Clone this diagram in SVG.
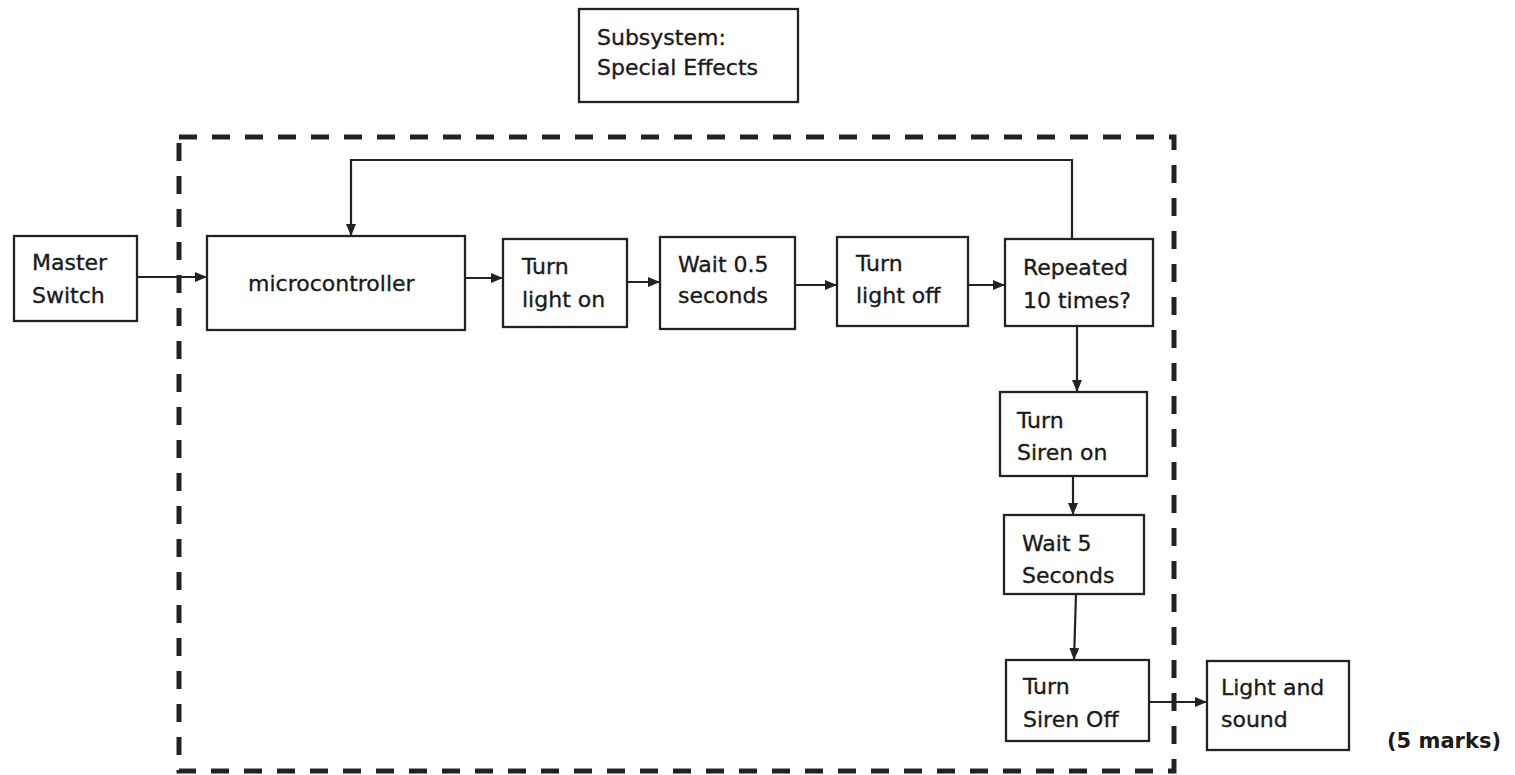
<svg xmlns="http://www.w3.org/2000/svg" width="1515" height="775" viewBox="0 0 1515 775">
<defs>
<style>
.box{fill:#ffffff;stroke:#222222;stroke-width:2.3}
.lbl{font-family:"DejaVu Sans","Liberation Sans",sans-serif;font-size:22px;fill:#1a1a1a;stroke:#1a1a1a;stroke-width:0.35}
.marks{font-family:"DejaVu Sans","Liberation Sans",sans-serif;font-size:21px;font-weight:bold;fill:#1a1a1a}
.con{fill:none;stroke:#222222;stroke-width:2.2}
.arr{marker-end:url(#ah)}
.bound{fill:none;stroke:#222222;stroke-width:5;stroke-dasharray:18 15}
</style>
<marker id="ah" viewBox="0 0 12 10" refX="12" refY="5" markerWidth="12" markerHeight="10" markerUnits="userSpaceOnUse" orient="auto">
<path d="M0,0 L12,5 L0,10 z" fill="#222222"/>
</marker>
</defs>
<rect width="1515" height="775" fill="#ffffff"/>

<g id="boundary">
<rect class="bound" x="179" y="137" width="995" height="634"/>
</g>

<g id="connectors">
<line class="con arr" x1="137" y1="277" x2="207" y2="277"/>
<line class="con arr" x1="465" y1="278" x2="503" y2="278"/>
<line class="con arr" x1="627" y1="282" x2="660" y2="282"/>
<line class="con arr" x1="795" y1="285" x2="837" y2="285"/>
<line class="con arr" x1="968" y1="285" x2="1005" y2="285"/>
<polyline class="con arr" points="1072,239 1072,160 351,160 351,236"/>
<line class="con arr" x1="1077" y1="326" x2="1077" y2="392"/>
<line class="con arr" x1="1073" y1="476" x2="1073" y2="515"/>
<line class="con arr" x1="1076" y1="594" x2="1074" y2="660"/>
<line class="con arr" x1="1149" y1="702" x2="1207" y2="702"/>
</g>

<g id="subsystem">
<rect class="box" x="579" y="9" width="219" height="93"/>
<text class="lbl" x="597" y="45">Subsystem:</text>
<text class="lbl" x="597" y="75">Special Effects</text>
</g>

<g id="master-switch">
<rect class="box" x="14" y="236" width="123" height="85"/>
<text class="lbl" x="32" y="270">Master</text>
<text class="lbl" x="32" y="303">Switch</text>
</g>

<g id="microcontroller">
<rect class="box" x="207" y="236" width="258" height="94"/>
<text class="lbl" x="248" y="291">microcontroller</text>
</g>

<g id="turn-light-on">
<rect class="box" x="503" y="239" width="124" height="88"/>
<text class="lbl" x="522" y="274">Turn</text>
<text class="lbl" x="522" y="307">light on</text>
</g>

<g id="wait-05">
<rect class="box" x="660" y="237" width="135" height="92"/>
<text class="lbl" x="678" y="272">Wait 0.5</text>
<text class="lbl" x="678" y="303">seconds</text>
</g>

<g id="turn-light-off">
<rect class="box" x="837" y="237" width="131" height="89"/>
<text class="lbl" x="856" y="271">Turn</text>
<text class="lbl" x="856" y="303">light off</text>
</g>

<g id="repeated">
<rect class="box" x="1005" y="239" width="148" height="87"/>
<text class="lbl" x="1023" y="275">Repeated</text>
<text class="lbl" x="1023" y="308">10 times?</text>
</g>

<g id="turn-siren-on">
<rect class="box" x="1000" y="392" width="147" height="84"/>
<text class="lbl" x="1017" y="428">Turn</text>
<text class="lbl" x="1017" y="460">Siren on</text>
</g>

<g id="wait-5">
<rect class="box" x="1004" y="515" width="140" height="79"/>
<text class="lbl" x="1022" y="551">Wait 5</text>
<text class="lbl" x="1022" y="583">Seconds</text>
</g>

<g id="turn-siren-off">
<rect class="box" x="1006" y="660" width="143" height="81"/>
<text class="lbl" x="1023" y="694">Turn</text>
<text class="lbl" x="1023" y="727">Siren Off</text>
</g>

<g id="light-and-sound">
<rect class="box" x="1207" y="661" width="142" height="89"/>
<text class="lbl" x="1221" y="695">Light and</text>
<text class="lbl" x="1221" y="727">sound</text>
</g>

<g id="marks">
<text class="marks" x="1387" y="748">(5 marks)</text>
</g>
</svg>
